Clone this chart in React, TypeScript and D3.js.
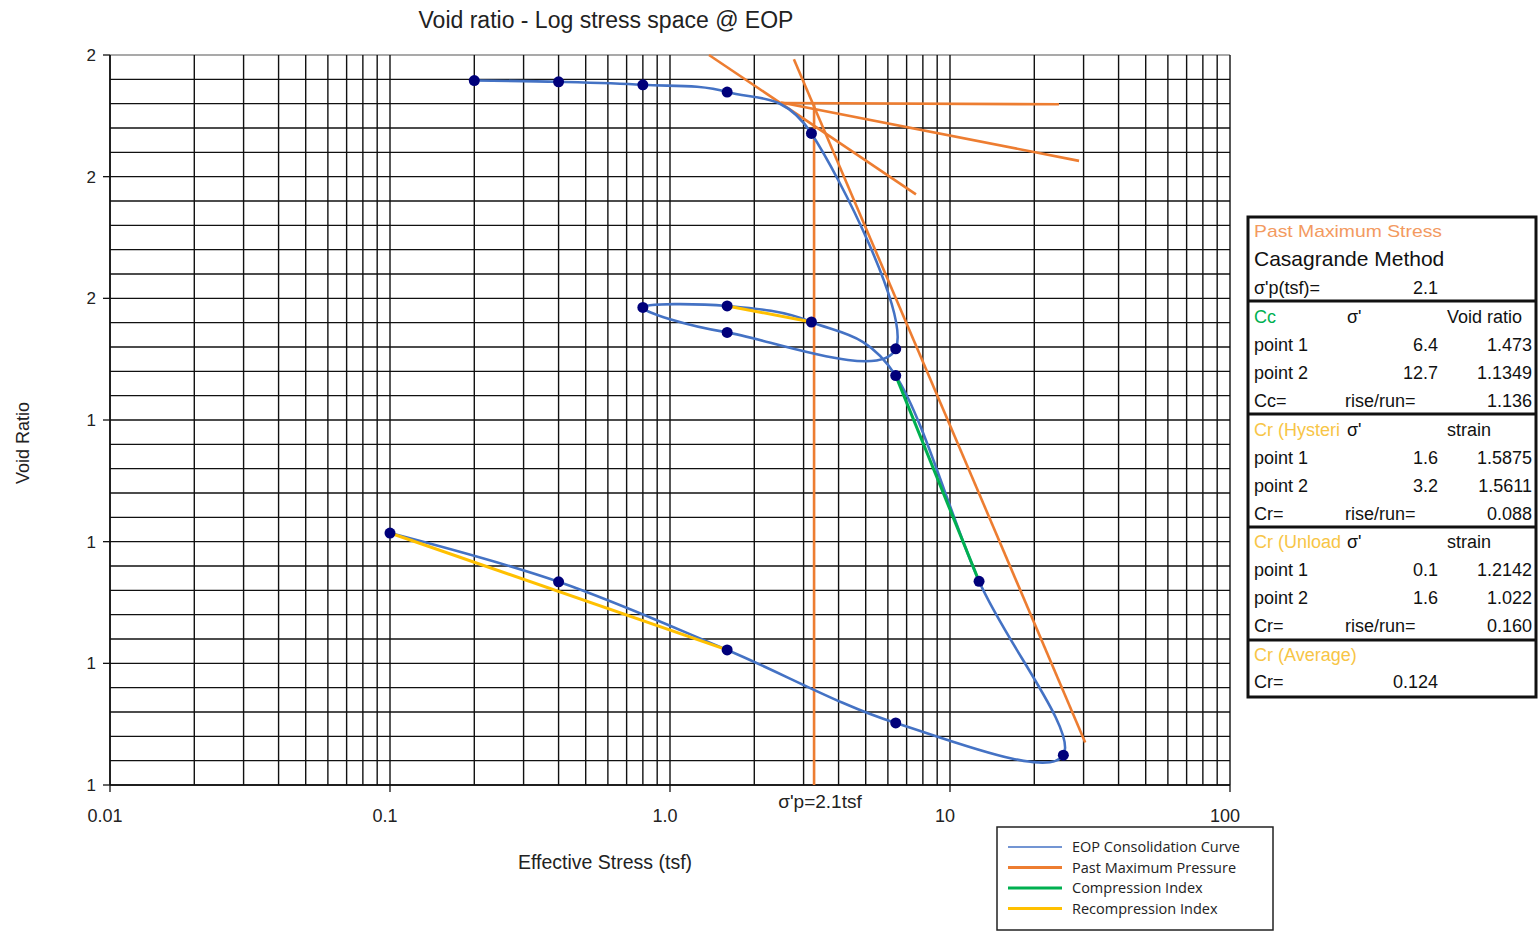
import React from "react";
import * as d3 from "d3";

// Consolidation test readings at end of primary (EOP), in test order
const stressTsf = [0.2, 0.4, 0.8, 1.6, 3.2, 6.4, 1.6, 0.8, 1.6, 3.2, 6.4, 12.7, 25.4, 6.4, 1.6, 0.4, 0.1];
const voidRatio = [1.958, 1.956, 1.951, 1.939, 1.871, 1.517, 1.544, 1.585, 1.5875, 1.5611, 1.473, 1.1349, 0.849, 0.902, 1.022, 1.134, 1.2142];

// Casagrande construction lines (stress, void ratio)
const cgHorizontal = [[2.49, 1.921], [24.5, 1.919]];
const cgTangent = [[1.378, 2.0], [7.56, 1.771]];
const cgBisector = [[2.49, 1.922], [28.9, 1.826]];
const cgVirgin = [[2.77, 1.993], [30.4, 0.87]];
const cgVertical = [[3.27, 1.921], [3.27, 0.8]];
const pastMaxStress = 2.1;

// Index points
const ccPoints = [[6.4, 1.473], [12.7, 1.1349]];
const crHystPoints = [[1.6, 1.5875], [3.2, 1.5611]];
const crUnloadPoints = [[0.1, 1.2142], [1.6, 1.022]];

const xTickValues = [0.01, 0.1, 1, 10, 100];
const xTickLabels = ["0.01", "0.1", "1.0", "10", "100"];

const legendItems = [
  { label: "EOP Consolidation Curve", color: "#4472C4", width: 1.5 },
  { label: "Past Maximum Pressure", color: "#ED7D31", width: 3 },
  { label: "Compression Index", color: "#00B050", width: 3 },
  { label: "Recompression Index", color: "#FFC000", width: 3 },
];

const W = 1539;
const H = 932;
const left = 110, right = 1230, top = 55, bottom = 785;

const FONT = "'Liberation Sans', Arial, sans-serif";

export default function App() {
  const x = d3.scaleLog().domain([0.01, 100]).range([left, right]);
  const y = d3.scaleLinear().domain([0.8, 2.0]).range([bottom, top]);

  const pts: [number, number][] = stressTsf.map((s, i) => [x(s), y(voidRatio[i])]);
  const curve = d3.line().curve(d3.curveCatmullRom.alpha(0))(pts) || "";
  const seg = d3.line<number[]>().x((d) => x(d[0])).y((d) => y(d[1]));

  const vGrid = x.ticks();
  const hGrid = d3.range(0, 31).map((i) => 0.8 + i * 0.04);
  const yMajor = y.ticks(6);
  const fmt0 = d3.format(".0f");

  const slope = (p: number[][]) => (p[0][1] - p[1][1]) / Math.log10(p[1][0] / p[0][0]);
  const cc = slope(ccPoints);
  const crH = slope(crHystPoints);
  const crU = slope(crUnloadPoints);
  const crAvg = (crH + crU) / 2;
  const f3 = d3.format(".3f");

  const orange = "#ED7D31";
  const yellowTxt = "#F7C546";
  const tx1 = 1254, txMid = 1347, txVal = 1438, txR = 1532, txHead = 1447;

  const cell = (xx: number, yy: number, t: string, anchor = "start", color = "#111", size = 18, extra: any = {}) => (
    <text x={xx} y={yy} textAnchor={anchor} fill={color} fontSize={size} fontFamily={FONT} {...extra}>{t}</text>
  );

  return (
    <svg width={W} height={H} style={{ position: "absolute", left: 0, top: 0, display: "block", background: "#fff" }}>
      {/* title */}
      <text x={606} y={28} textAnchor="middle" fontSize={23} fontFamily={FONT} fill="#222">Void ratio - Log stress space @ EOP</text>

      {/* grid */}
      <g>
        {hGrid.map((v, i) => (
          <line key={"h" + i} x1={left} x2={right} y1={y(v)} y2={y(v)} stroke={i === 30 ? "#8c8c8c" : "#111"} strokeWidth={1.4} />
        ))}
        {vGrid.map((v, i) => (
          <line key={"v" + i} x1={x(v)} x2={x(v)} y1={top} y2={bottom} stroke="#111" strokeWidth={1.4} />
        ))}
      </g>

      {/* axes */}
      <line x1={left} x2={left} y1={top} y2={bottom} stroke="#111" strokeWidth={1.5} />
      <line x1={left} x2={right} y1={bottom} y2={bottom} stroke="#111" strokeWidth={1.5} />
      {yMajor.map((v, i) => (
        <g key={"yt" + i}>
          <line x1={left - 7} x2={left} y1={y(v)} y2={y(v)} stroke="#111" strokeWidth={1.3} />
          <text x={96} y={y(v) + 6} textAnchor="end" fontSize={17} fontFamily={FONT} fill="#222">{fmt0(v)}</text>
        </g>
      ))}
      {xTickValues.map((v, i) => (
        <g key={"xt" + i}>
          <line x1={x(v)} x2={x(v)} y1={bottom} y2={bottom + 7} stroke="#111" strokeWidth={1.3} />
          <text x={x(v) - 5} y={822} textAnchor="middle" fontSize={18} fontFamily={FONT} fill="#222">{xTickLabels[i]}</text>
        </g>
      ))}

      <text x={605} y={869} textAnchor="middle" fontSize={19.5} fontFamily={FONT} fill="#222">Effective Stress (tsf)</text>
      <text transform="translate(29,443) rotate(-90)" textAnchor="middle" fontSize={18} fontFamily={FONT} fill="#222">Void Ratio</text>

      {/* Casagrande construction */}
      <g stroke={orange} strokeWidth={2.6} fill="none">
        <path d={seg(cgHorizontal) || ""} />
        <path d={seg(cgTangent) || ""} />
        <path d={seg(cgBisector) || ""} />
        <path d={seg(cgVirgin) || ""} />
        <path d={seg(cgVertical) || ""} />
      </g>

      {/* consolidation curve */}
      <path d={curve} fill="none" stroke="#4472C4" strokeWidth={2.6} />

      {/* index lines */}
      <path d={seg(ccPoints) || ""} stroke="#00B050" strokeWidth={3} fill="none" />
      <path d={seg(crHystPoints) || ""} stroke="#FFC000" strokeWidth={3} fill="none" />
      <path d={seg(crUnloadPoints) || ""} stroke="#FFC000" strokeWidth={3} fill="none" />

      {/* markers */}
      {pts.map((p, i) => (
        <circle key={"m" + i} cx={p[0]} cy={p[1]} r={5.5} fill="#00007A" />
      ))}

      {/* past maximum stress label */}
      <rect x={769} y={786} width={130} height={30} fill="#fff" />
      <text x={820} y={808} textAnchor="middle" fontSize={19} fontFamily={FONT} fill="#222">{`σ'p=${pastMaxStress}tsf`}</text>

      {/* results table */}
      <g>
        <rect x={1248} y={217} width={288} height={480} fill="#fff" stroke="#111" strokeWidth={3} />
        {[301, 414, 527, 640].map((yy) => (
          <line key={"d" + yy} x1={1248} x2={1536} y1={yy} y2={yy} stroke="#111" strokeWidth={3} />
        ))}
        {cell(tx1, 237, "Past Maximum Stress", "start", "#F39A5F", 17, { textLength: 188, lengthAdjust: "spacingAndGlyphs" })}
        {cell(tx1, 266, "Casagrande Method", "start", "#111", 21)}
        {cell(tx1, 294, "σ'p(tsf)=")}
        {cell(txVal, 294, String(pastMaxStress), "end")}

        {cell(tx1, 323, "Cc", "start", "#00B050")}
        {cell(txMid, 323, "σ'")}
        {cell(txHead, 323, "Void ratio")}
        {cell(tx1, 351, "point 1")}
        {cell(txVal, 351, String(ccPoints[0][0]), "end")}
        {cell(txR, 351, String(ccPoints[0][1]), "end")}
        {cell(tx1, 379, "point 2")}
        {cell(txVal, 379, String(ccPoints[1][0]), "end")}
        {cell(txR, 379, String(ccPoints[1][1]), "end")}
        {cell(tx1, 407, "Cc=")}
        {cell(1345, 407, "rise/run=")}
        {cell(txR, 407, f3(cc), "end")}

        {cell(tx1, 436, "Cr (Hysteri", "start", yellowTxt)}
        {cell(txMid, 436, "σ'")}
        {cell(txHead, 436, "strain")}
        {cell(tx1, 464, "point 1")}
        {cell(txVal, 464, String(crHystPoints[0][0]), "end")}
        {cell(txR, 464, String(crHystPoints[0][1]), "end")}
        {cell(tx1, 492, "point 2")}
        {cell(txVal, 492, String(crHystPoints[1][0]), "end")}
        {cell(txR, 492, String(crHystPoints[1][1]), "end")}
        {cell(tx1, 520, "Cr=")}
        {cell(1345, 520, "rise/run=")}
        {cell(txR, 520, f3(crH), "end")}

        {cell(tx1, 548, "Cr (Unload", "start", yellowTxt)}
        {cell(txMid, 548, "σ'")}
        {cell(txHead, 548, "strain")}
        {cell(tx1, 576, "point 1")}
        {cell(txVal, 576, String(crUnloadPoints[0][0]), "end")}
        {cell(txR, 576, String(crUnloadPoints[0][1]), "end")}
        {cell(tx1, 604, "point 2")}
        {cell(txVal, 604, String(crUnloadPoints[1][0]), "end")}
        {cell(txR, 604, String(crUnloadPoints[1][1]), "end")}
        {cell(tx1, 632, "Cr=")}
        {cell(1345, 632, "rise/run=")}
        {cell(txR, 632, f3(crU), "end")}

        {cell(tx1, 661, "Cr (Average)", "start", yellowTxt)}
        {cell(tx1, 688, "Cr=")}
        {cell(txVal, 688, f3(crAvg), "end")}
      </g>

      {/* legend */}
      <g>
        <rect x={997} y={827} width={276} height={103} fill="#fff" stroke="#222" strokeWidth={1.5} />
        {legendItems.map((it, i) => (
          <g key={it.label}>
            <line x1={1008} x2={1062} y1={847 + i * 20.5} y2={847 + i * 20.5} stroke={it.color} strokeWidth={it.width} />
            <text x={1072} y={852 + i * 20.5} fontSize={14.5} fontFamily="'Open Sans', sans-serif" fill="#222">{it.label}</text>
          </g>
        ))}
      </g>
    </svg>
  );
}
